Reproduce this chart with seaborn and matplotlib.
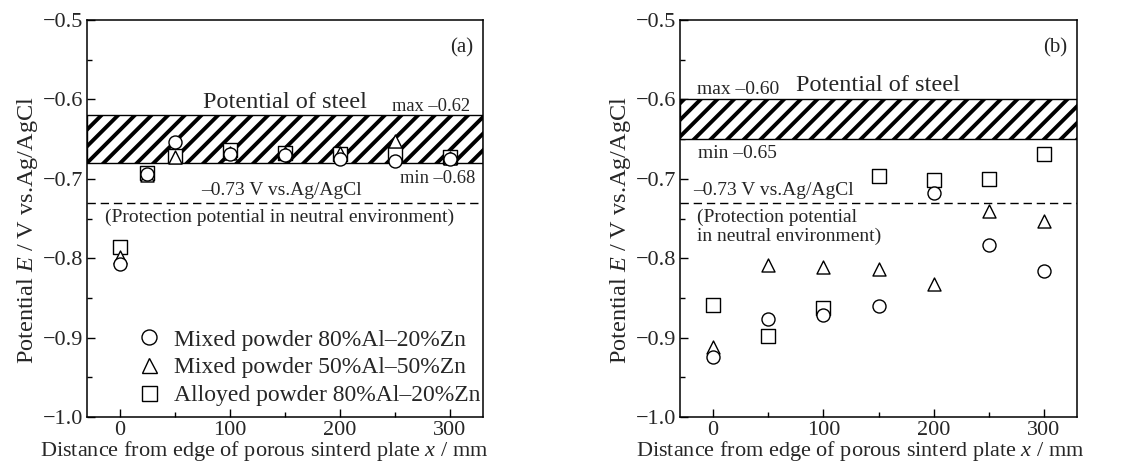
import numpy as np
import pandas as pd
import matplotlib
matplotlib.use("Agg")
import matplotlib.pyplot as plt
from matplotlib.lines import Line2D
from matplotlib.ticker import MultipleLocator
import seaborn as sns

# ---------------- data ----------------
distance = [0, 25, 50, 100, 150, 200, 250, 300]
a_mixed_80_20 = [-0.807, -0.694, -0.654, -0.669, -0.670, -0.675, -0.677, -0.675]
a_mixed_50_50 = [-0.798, -0.695, -0.673, -0.667, -0.668, -0.668, -0.653, -0.674]
a_alloy_80_20 = [-0.786, -0.693, -0.671, -0.664, -0.667, -0.669, -0.669, -0.673]

distance_b = [0, 50, 100, 150, 200, 250, 300]
b_mixed_80_20 = [-0.924, -0.877, -0.872, -0.860, -0.718, -0.783, -0.816]
b_mixed_50_50 = [-0.912, -0.808, -0.811, -0.813, -0.833, -0.741, -0.753]
b_alloy_80_20 = [-0.859, -0.898, -0.863, -0.697, -0.701, -0.700, -0.669]

series_names = ["Mixed powder 80%Al\u201320%Zn",
                "Mixed powder 50%Al\u201350%Zn",
                "Alloyed powder 80%Al\u201320%Zn"]
series_markers = ["o", "^", "s"]

steel_a = (-0.68, -0.62)
steel_b = (-0.65, -0.60)
protection = -0.73

# ---------------- style ----------------
sns.set_theme(style="ticks")
plt.rcParams["font.family"] = ["Liberation Serif", "DejaVu Serif"]
plt.rcParams["mathtext.fontset"] = "custom"
plt.rcParams["mathtext.it"] = "Liberation Serif:italic"
plt.rcParams["mathtext.rm"] = "Liberation Serif"
plt.rcParams["hatch.linewidth"] = 2.8
plt.rcParams["axes.unicode_minus"] = True

fig = plt.figure(figsize=(11.24, 4.73), dpi=100)
axA = fig.add_axes([0.0774, 0.1184, 0.3523, 0.8393])
axB = fig.add_axes([0.6050, 0.1184, 0.3532, 0.8393])

FS_TICK = 16
FS_XL = 16
FS_YL = 17.5
FS = 14

def draw(ax, xs, ys_list, band, xlab_x):
    ax.axhspan(band[0], band[1], facecolor="white", edgecolor="black",
               hatch="//", linewidth=1.0, zorder=1)
    ax.axhline(protection, color="black", lw=1.0, ls=(0, (6, 3.5)), zorder=1.5)
    order = [2, 1, 0]
    for i in order:
        df = pd.DataFrame({"x": xs, "y": ys_list[i]})
        sns.scatterplot(data=df, x="x", y="y", ax=ax, marker=series_markers[i],
                        s=88,
                        color="white", edgecolor="black", linewidth=1.0,
                        zorder=3 + (2 - i), legend=False)
    ax.set_xlim(-30, 330)
    ax.set_ylim(-1.0, -0.5)
    ax.xaxis.set_major_locator(MultipleLocator(100))
    ax.xaxis.set_minor_locator(MultipleLocator(50))
    ax.yaxis.set_major_locator(MultipleLocator(0.1))
    ax.yaxis.set_minor_locator(MultipleLocator(0.05))
    ax.tick_params(which="both", direction="in", top=False, right=False,
                   labelsize=FS_TICK, color="black")
    ax.tick_params(which="major", length=6, width=1, pad=3)
    ax.tick_params(which="minor", length=3.5, width=1)
    ax.yaxis.set_major_formatter(matplotlib.ticker.FuncFormatter(
        lambda v, p: ("\u2212%.1f" % abs(v)) if v < 0 else "%.1f" % v))
    for sp in ax.spines.values():
        sp.set_color("black")
        sp.set_linewidth(1.1)
        sp.set_zorder(10)
    ax.set_xlabel("Distance from edge of porous sinterd plate $\\mathit{x}$ / mm",
                  fontsize=FS_XL, labelpad=-1)
    ax.set_ylabel("Potential $\\mathit{E}$ / V vs.Ag/AgCl", fontsize=FS_YL, labelpad=2)
    ax.xaxis.label.set_x(xlab_x)
    ax.yaxis.label.set_y(0.47)

draw(axA, distance, [a_mixed_80_20, a_mixed_50_50, a_alloy_80_20], steel_a, 0.447)
draw(axB, distance_b, [b_mixed_80_20, b_mixed_50_50, b_alloy_80_20], steel_b, 0.453)

# ---------------- annotations (a) ----------------
axA.text(0.975, 0.955, "(a)", transform=axA.transAxes, ha="right", va="top", fontsize=FS + 1)
axA.text(150, -0.617, "Potential of steel", ha="center", va="bottom", fontsize=17.5)
axA.text(318, -0.609, "max \u20130.62", ha="right", va="center", fontsize=13.3)
axA.text(323, -0.700, "min \u20130.68", ha="right", va="center", fontsize=13.3)
axA.text(147, -0.725, "\u20130.73 V vs.Ag/AgCl", ha="center", va="bottom", fontsize=FS)
axA.text(145, -0.738, "(Protection potential in neutral environment)",
         ha="center", va="top", fontsize=FS)

handles = [Line2D([], [], marker=m, ls="none", markersize=10.8,
                  markerfacecolor="white", markeredgecolor="black",
                  markeredgewidth=1.0) for m in series_markers]
axA.legend(handles, series_names, loc="lower right", frameon=False,
           bbox_to_anchor=(1.006, 0.015),
           fontsize=17, handletextpad=0.5, labelspacing=0.27,
           borderaxespad=0.0, handlelength=1.1, borderpad=0.2)

# ---------------- annotations (b) ----------------
axB.text(0.975, 0.955, "(b)", transform=axB.transAxes, ha="right", va="top", fontsize=FS + 1)
axB.text(-15, -0.598, "max \u20130.60", ha="left", va="bottom", fontsize=FS)
axB.text(75, -0.596, "Potential of steel", ha="left", va="bottom", fontsize=17.5)
axB.text(-14, -0.657, "min \u20130.65", ha="left", va="top", fontsize=FS)
axB.text(-18, -0.726, "\u20130.73 V vs.Ag/AgCl", ha="left", va="bottom", fontsize=FS)
axB.text(-15, -0.738, "(Protection potential\nin neutral environment)",
         ha="left", va="top", fontsize=FS, linespacing=1.1)

fig.savefig("out.png", dpi=100)
